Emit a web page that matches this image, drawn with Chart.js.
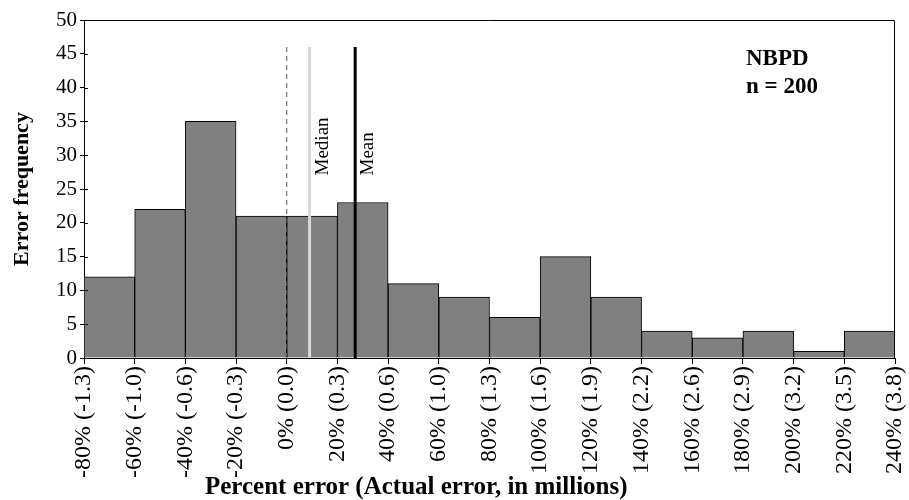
<!DOCTYPE html>
<html>
<head>
<meta charset="utf-8">
<script src="https://cdn.jsdelivr.net/npm/chart.js@4.4.1/dist/chart.umd.min.js"></script>
<style>
  html, body { margin: 0; padding: 0; background: #fff; }
  #wrap { width: 909px; height: 500px; }
</style>
</head>
<body>
<div id="wrap"><canvas id="hist" width="909" height="500"></canvas></div>
<script>
// bin edges (percent error) and the matching tick labels
const binEdges = [-80, -60, -40, -20, 0, 20, 40, 60, 80, 100, 120, 140, 160, 180, 200, 220, 240];
const edgeLabels = [
  "-80% (-1.3)", "-60% (-1.0)", "-40% (-0.6)", "-20% (-0.3)", "0% (0.0)", "20% (0.3)",
  "40% (0.6)", "60% (1.0)", "80% (1.3)", "100% (1.6)", "120% (1.9)", "140% (2.2)",
  "160% (2.6)", "180% (2.9)", "200% (3.2)", "220% (3.5)", "240% (3.8)",
];
const counts = [12, 22, 35, 21, 21, 23, 11, 9, 6, 15, 9, 4, 3, 4, 1, 4];

const zeroLine = 0;
const medianValue = 9;
const meanValue = 27;
const markerTop = 46;
const markerLabelAt = 27;

const serif = "'Liberation Serif', 'Times New Roman', serif";

const bars = counts.map((c, i) => ({ x: (binEdges[i] + binEdges[i + 1]) / 2, y: c }));
const vline = (v) => [{ x: v, y: 0 }, { x: v, y: markerTop }];

const decorPlugin = {
  id: "decor",
  afterDraw(chart) {
    const { ctx, chartArea: a, scales } = chart;
    const xs = scales.x;
    const ys = scales.y;
    ctx.save();

    // frame: top and right edges
    ctx.strokeStyle = "#000";
    ctx.lineWidth = 1;
    ctx.beginPath();
    ctx.moveTo(a.left, Math.round(a.top) + 0.5);
    ctx.lineTo(Math.round(a.right) - 0.5, Math.round(a.top) + 0.5);
    ctx.lineTo(Math.round(a.right) - 0.5, a.bottom);
    ctx.stroke();

    // inner half of y ticks
    ys.ticks.forEach((t) => {
      const py = Math.round(ys.getPixelForValue(t.value)) + 0.5;
      ctx.beginPath();
      ctx.moveTo(a.left, py);
      ctx.lineTo(a.left + 4, py);
      ctx.stroke();
    });

    ctx.fillStyle = "#000";

    // marker labels
    ctx.font = `19px ${serif}`;
    ctx.textAlign = "left";
    ctx.textBaseline = "middle";
    [["Median", medianValue], ["Mean", meanValue]].forEach(([txt, v]) => {
      ctx.save();
      ctx.translate(xs.getPixelForValue(v) + 13, ys.getPixelForValue(markerLabelAt));
      ctx.rotate(-Math.PI / 2);
      ctx.fillText(txt, 0, 0);
      ctx.restore();
    });

    // sample note
    ctx.font = `bold 23px ${serif}`;
    ctx.textBaseline = "alphabetic";
    ctx.fillText("NBPD", 746, 65);
    ctx.fillText("n = 200", 746, 93);

    // axis titles
    ctx.font = `bold 22px ${serif}`;
    ctx.textAlign = "center";
    ctx.save();
    ctx.translate(22, (a.top + a.bottom) / 2);
    ctx.rotate(-Math.PI / 2);
    ctx.textBaseline = "middle";
    ctx.fillText("Error frequency", 0, 0);
    ctx.restore();

    ctx.font = `bold 25px ${serif}`;
    ctx.textAlign = "left";
    ctx.textBaseline = "alphabetic";
    ctx.fillText("Percent error (Actual error, in millions)", 205, 494);

    ctx.restore();
  },
};

new Chart(document.getElementById("hist"), {
  data: {
    datasets: [
      {
        type: "line",
        data: vline(zeroLine),
        borderColor: "#595959",
        borderWidth: 1,
        borderDash: [5, 4],
        pointRadius: 0,
        order: 1,
      },
      {
        type: "line",
        data: vline(medianValue),
        borderColor: "#d9d9d9",
        borderWidth: 3,
        pointRadius: 0,
        order: 1,
      },
      {
        type: "line",
        data: vline(meanValue),
        borderColor: "#000",
        borderWidth: 3,
        pointRadius: 0,
        order: 1,
      },
      {
        type: "bar",
        data: bars,
        backgroundColor: "#808080",
        borderColor: "#000",
        borderWidth: 1,
        barPercentage: 1,
        categoryPercentage: 1,
        order: 2,
      },
    ],
  },
  options: {
    responsive: false,
    animation: false,
    layout: { padding: { top: 20, right: 14, left: 0, bottom: 0 } },
    plugins: { legend: { display: false }, tooltip: { enabled: false } },
    scales: {
      x: {
        type: "linear",
        min: -80,
        max: 240,
        offset: false,
        afterBuildTicks: (s) => {
          s.ticks = binEdges.map((v) => ({ value: v }));
        },
        afterFit: (s) => {
          s.height = 142;
          s.paddingLeft = 0;
          s.paddingRight = 0;
        },
        grid: { offset: false, drawOnChartArea: false, color: "#000", tickLength: 6 },
        border: { color: "#000", width: 1 },
        ticks: {
          autoSkip: false,
          minRotation: 90,
          maxRotation: 90,
          padding: 2,
          color: "#000",
          font: { family: serif, size: 24 },
          callback: (v) => edgeLabels[binEdges.indexOf(v)] ?? "",
        },
      },
      y: {
        min: 0,
        max: 50,
        afterFit: (s) => {
          s.width = 84;
          s.paddingTop = 0;
          s.paddingBottom = 0;
        },
        grid: { drawOnChartArea: false, color: "#000", tickLength: 4 },
        border: { color: "#000", width: 1 },
        ticks: {
          stepSize: 5,
          padding: 3,
          color: "#000",
          font: { family: serif, size: 21 },
        },
      },
    },
  },
  plugins: [decorPlugin],
});
</script>
</body>
</html>
